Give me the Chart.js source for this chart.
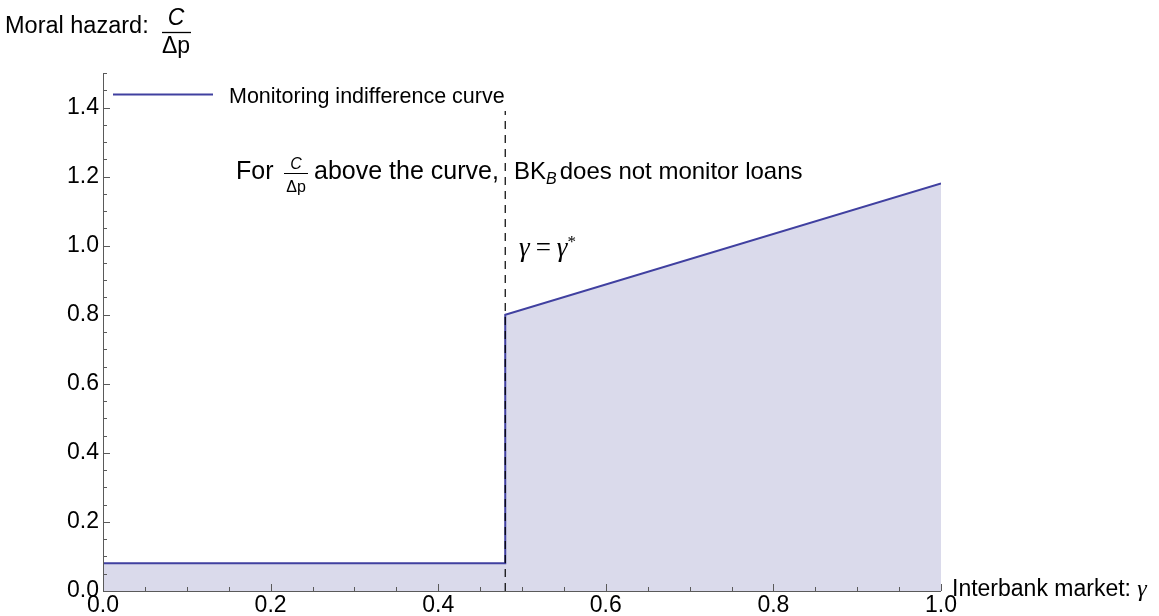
<!DOCTYPE html>
<html><head><meta charset="utf-8">
<script src="https://cdn.jsdelivr.net/npm/chart.js@4.4.1/dist/chart.umd.min.js"></script>
<style>html,body{margin:0;padding:0;background:#fff;}#wrap{width:1159px;height:616px;position:relative;}</style>
</head><body>
<div id="wrap"><canvas id="c" width="1159" height="616"></canvas></div>
<script>
// ---- data ----
const curveX = [0, 0.48, 0.48, 1.0];
const curveY = [0.08, 0.08, 0.80, 1.18];
const gammaStarX = [0.48, 0.48];
const gammaStarY = [0, 1.39];
const xTickVals = [0, 0.2, 0.4, 0.6, 0.8, 1.0];
const yTickVals = [0, 0.2, 0.4, 0.6, 0.8, 1.0, 1.2, 1.4];
const xMinorStep = 0.05;
const yMinorStep = 0.05;
const seriesName = 'Monitoring indifference curve';

const SANS = '"Liberation Sans", Arial, Helvetica, sans-serif';
const SERIF = '"Liberation Serif", "Times New Roman", serif';
const FS = 22;

const decor = {
  id: 'decor',
  afterDatasetsDraw(chart) {
    const ctx = chart.ctx, xs = chart.scales.x, ys = chart.scales.y;
    const L = xs.left, R = xs.right, B = ys.bottom, T = ys.top;
    ctx.save();
    // axes
    ctx.strokeStyle = '#5a5a5a'; ctx.lineWidth = 1;
    ctx.beginPath();
    ctx.moveTo(L + 0.5, T); ctx.lineTo(L + 0.5, B + 0.5);
    ctx.moveTo(L, B + 0.5); ctx.lineTo(R, B + 0.5);
    ctx.stroke();
    // ticks (inward, Mathematica style)
    ctx.beginPath();
    for (let i = 0; i <= Math.round((xs.max - xs.min) / xMinorStep); i++) {
      const v = xs.min + i * xMinorStep;
      const major = xTickVals.some(t => Math.abs(t - v) < 1e-6);
      const px = Math.round(xs.getPixelForValue(v)) + 0.5;
      ctx.moveTo(px, B); ctx.lineTo(px, B - (major ? 7 : 4));
    }
    for (let i = 0; i <= Math.round((ys.max - ys.min) / yMinorStep); i++) {
      const v = ys.min + i * yMinorStep;
      const major = yTickVals.some(t => Math.abs(t - v) < 1e-6);
      const py = Math.round(ys.getPixelForValue(v)) + 0.5;
      ctx.moveTo(L, py); ctx.lineTo(L + (major ? 7 : 4), py);
    }
    ctx.stroke();

    ctx.fillStyle = '#000';
    ctx.textBaseline = 'alphabetic';
    // y-axis title with fraction
    ctx.font = '23.5px ' + SANS; ctx.textAlign = 'left';
    ctx.fillText('Moral hazard:', 5, 33);
    const fx = 176;
    ctx.textAlign = 'center';
    ctx.font = 'italic 23px ' + SANS;
    ctx.fillText('C', fx, 25);
    ctx.font = '23px ' + SANS;
    ctx.fillText('\u0394p', fx, 53);
    ctx.beginPath(); ctx.lineWidth = 1.3; ctx.strokeStyle = '#000';
    ctx.moveTo(162, 32.5); ctx.lineTo(191, 32.5); ctx.stroke();

    // x-axis title
    ctx.textAlign = 'left';
    ctx.font = '23px ' + SANS;
    const xt = 'Interbank market: ';
    ctx.fillText(xt, R + 11, 596);
    const xw = ctx.measureText(xt).width;
    ctx.font = 'italic 24px ' + SERIF;
    ctx.fillText('\u03B3', R + 11 + xw, 596);

    // legend
    const ds = chart.data.datasets[1];
    ctx.strokeStyle = ds.borderColor; ctx.lineWidth = ds.borderWidth;
    ctx.beginPath(); ctx.moveTo(113, 94.5); ctx.lineTo(213, 94.5); ctx.stroke();
    ctx.font = '21.5px ' + SANS; ctx.textAlign = 'left';
    ctx.fillText(seriesName, 229, 103);

    // annotation: For C/Δp above the curve, BK_B does not monitor loans
    const by = 179;
    ctx.font = '25px ' + SANS;
    ctx.fillText('For', 236, by);
    const fc = 296;
    ctx.textAlign = 'center';
    ctx.font = 'italic 16px ' + SANS; ctx.fillText('C', fc, by - 10);
    ctx.font = '16px ' + SANS; ctx.fillText('\u0394p', fc, by + 13);
    ctx.strokeStyle = '#000'; ctx.lineWidth = 1;
    ctx.beginPath(); ctx.moveTo(fc - 12, by - 5.5); ctx.lineTo(fc + 12, by - 5.5); ctx.stroke();
    ctx.textAlign = 'left';
    ctx.font = '25px ' + SANS;
    ctx.fillText('above the curve,', 314, by);
    let x = 514;
    ctx.font = '24px ' + SANS;
    ctx.fillText('BK', x, by); x += ctx.measureText('BK').width;
    ctx.font = 'italic 16px ' + SANS;
    ctx.fillText('B', x, by + 5); x += ctx.measureText('B').width + 3;
    ctx.font = '24px ' + SANS;
    ctx.fillText('does not monitor loans', x, by);

    // gamma = gamma*
    let gx = 519; const gy = 256;
    ctx.font = 'italic 27px ' + SERIF;
    ctx.fillText('\u03B3', gx, gy); gx += ctx.measureText('\u03B3').width + 6;
    ctx.font = '27px ' + SERIF;
    ctx.fillText('=', gx, gy); gx += ctx.measureText('=').width + 6;
    ctx.font = 'italic 27px ' + SERIF;
    ctx.fillText('\u03B3', gx, gy); gx += ctx.measureText('\u03B3').width;
    ctx.font = '17px ' + SERIF;
    ctx.fillText('*', gx, gy - 9);
    ctx.restore();
  }
};

new Chart(document.getElementById('c'), {
  type: 'line',
  data: {
    datasets: [
      {
        label: 'gamma*',
        data: gammaStarX.map((v, i) => ({ x: v, y: gammaStarY[i] })),
        borderColor: '#000', borderWidth: 1.2, borderDash: [8, 6],
        pointRadius: 0, fill: false, tension: 0
      },
      {
        label: seriesName,
        data: curveX.map((v, i) => ({ x: v, y: curveY[i] })),
        borderColor: '#4040a0', borderWidth: 2,
        backgroundColor: 'rgb(218,218,235)', fill: 'origin',
        pointRadius: 0, tension: 0
      }
    ]
  },
  options: {
    responsive: false, animation: false, devicePixelRatio: 1,
    layout: { padding: { top: 73, right: 218, left: 0, bottom: 0 } },
    plugins: { legend: { display: false }, tooltip: { enabled: false } },
    scales: {
      x: {
        type: 'linear', min: 0, max: 1, position: 'bottom',
        grid: { display: false, drawTicks: false }, border: { display: false },
        afterBuildTicks: s => { s.ticks = xTickVals.map(v => ({ value: v })); },
        afterFit: s => { s.height = 25; },
        ticks: { color: '#000', font: { family: SANS, size: 23 }, padding: 1, maxRotation: 0, autoSkip: false,
                 callback: v => Number(v).toFixed(1) }
      },
      y: {
        type: 'linear', min: 0, max: 1.5,
        grid: { display: false, drawTicks: false }, border: { display: false },
        afterBuildTicks: s => { s.ticks = yTickVals.map(v => ({ value: v })); },
        afterFit: s => { s.width = 103; },
        ticks: { color: '#000', font: { family: SANS, size: 23 }, padding: 4, autoSkip: false,
                 callback: v => Number(v).toFixed(1) }
      }
    }
  },
  plugins: [decor]
});
</script>
</body></html>
